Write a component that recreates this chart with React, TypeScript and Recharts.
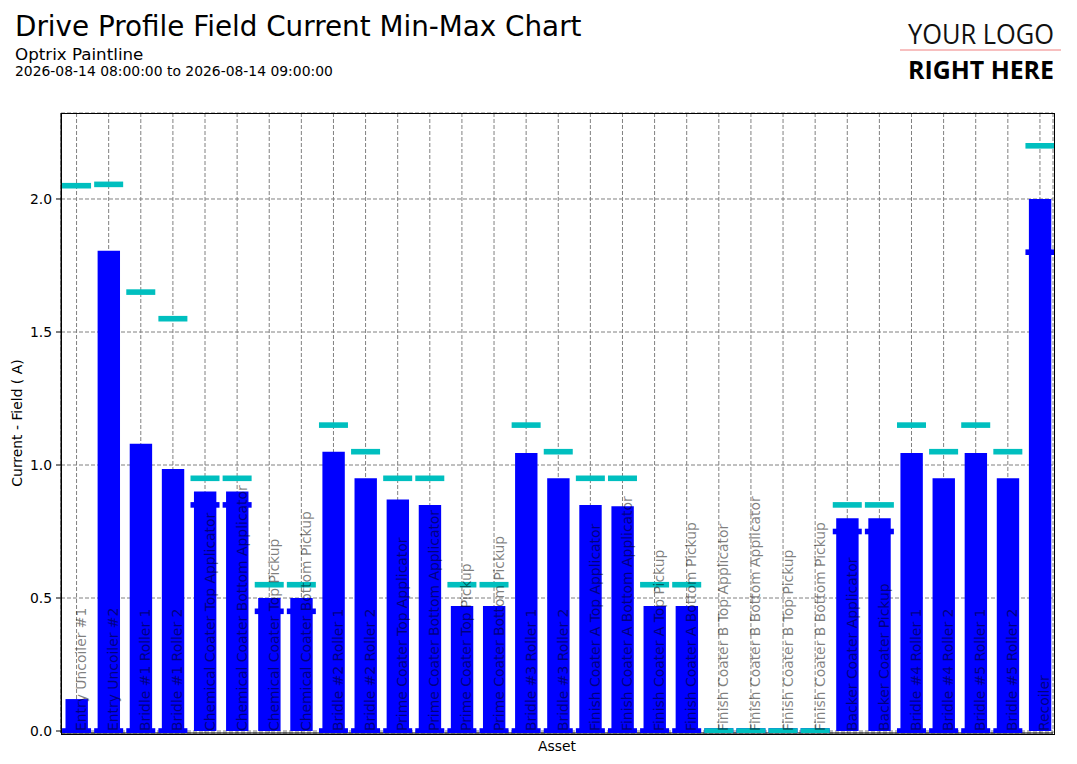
import {
  ComposedChart,
  Bar,
  Scatter,
  XAxis,
  YAxis,
  CartesianGrid,
} from "recharts";

const ASSETS = [
  "Entry Uncoiler #1",
  "Entry Uncoiler #2",
  "Bridle #1 Roller 1",
  "Bridle #1 Roller 2",
  "Chemical Coater Top Applicator",
  "Chemical Coater Bottom Applicator",
  "Chemical Coater Top Pickup",
  "Chemical Coater Bottom Pickup",
  "Bridle #2 Roller 1",
  "Bridle #2 Roller 2",
  "Prime Coater Top Applicator",
  "Prime Coater Bottom Applicator",
  "Prime Coater Top Pickup",
  "Prime Coater Bottom Pickup",
  "Bridle #3 Roller 1",
  "Bridle #3 Roller 2",
  "Finish Coater A Top Applicator",
  "Finish Coater A Bottom Applicator",
  "Finish Coater A Top Pickup",
  "Finish Coater A Bottom Pickup",
  "Finish Coater B Top Applicator",
  "Finish Coater B Bottom Applicator",
  "Finish Coater B Top Pickup",
  "Finish Coater B Bottom Pickup",
  "Backer Coater Applicator",
  "Backer Coater Pickup",
  "Bridle #4 Roller 1",
  "Bridle #4 Roller 2",
  "Bridle #5 Roller 1",
  "Bridle #5 Roller 2",
  "Recoiler",
];

const FIELD_CURRENT = [
  0.12, 1.805, 1.08, 0.985, 0.9, 0.9, 0.5, 0.5, 1.05, 0.95, 0.87, 0.85, 0.47,
  0.47, 1.045, 0.95, 0.85, 0.845, 0.47, 0.47, 0, 0, 0, 0, 0.8, 0.8, 1.045,
  0.95, 1.045, 0.95, 2.0,
];

const MIN_CURRENT = [
  0, 0, 0, 0, 0.85, 0.85, 0.45, 0.45, 0, 0, 0, 0, 0, 0, 0, 0, 0, 0, 0, 0, 0,
  0, 0, 0, 0.75, 0.75, 0, 0, 0, 0, 1.8,
];

const MAX_CURRENT = [
  2.05, 2.055, 1.65, 1.55, 0.95, 0.95, 0.55, 0.55, 1.15, 1.05, 0.95, 0.95,
  0.55, 0.55, 1.15, 1.05, 0.95, 0.95, 0.55, 0.55, 0, 0, 0, 0, 0.85, 0.85, 1.15,
  1.05, 1.15, 1.05, 2.2,
];

const Y_TICKS = [0, 0.5, 1, 1.5, 2];

const FONT = "DejaVu Sans";

// plot box
const PLOT = { left: 61, top: 113, right: 1053, bottom: 733 };

const chartData = ASSETS.map((asset, i) => ({
  asset,
  value: FIELD_CURRENT[i],
  min: MIN_CURRENT[i],
  max: MAX_CURRENT[i],
}));

// flat horizontal marker, wider than the bar
function Marker(props: any) {
  const { cx, cy, fill } = props;
  if (cx == null || cy == null) return null;
  return <rect x={cx - 14.5} y={cy - 2.8} width={29} height={5.6} fill={fill} />;
}

// asset names are written inside the plot, bottom to top
function AssetTick(props: any) {
  const { x, y, payload } = props;
  const tx = x + 9.5;
  const ty = y - 2;
  return (
    <text
      x={tx}
      y={ty}
      transform={`rotate(-90 ${tx} ${ty})`}
      textAnchor="start"
      fontFamily={FONT}
      fontSize={13.9}
      fill="#000"
      fillOpacity={0.5}
    >
      {payload.value}
    </text>
  );
}

export default function App() {
  return (
    <div
      style={{
        position: "absolute",
        left: 0,
        top: 0,
        width: 1077,
        height: 764,
        background: "#fff",
        fontFamily: FONT,
      }}
    >
      <ComposedChart
        width={1077}
        height={764}
        data={chartData}
        margin={{ top: PLOT.top, right: 1077 - PLOT.right, bottom: 0, left: 0 }}
        style={{ position: "absolute", left: 0, top: 0 }}
      >
        <CartesianGrid stroke="#808080" strokeDasharray="4 2" />
        <YAxis
          width={PLOT.left}
          type="number"
          domain={[-0.0075, 2.3233]}
          allowDataOverflow
          ticks={Y_TICKS}
          tickFormatter={(v: number) => v.toFixed(1)}
          tickSize={5}
          tickMargin={4}
          axisLine={{ stroke: "#000" }}
          tickLine={{ stroke: "#000" }}
          tick={{ fill: "#000", fontSize: 13.9, fontFamily: FONT }}
        />
        <Bar
          dataKey="value"
          fill="#0000ff"
          barSize={22.4}
          isAnimationActive={false}
        />
        <Scatter
          dataKey="min"
          fill="#0000ff"
          shape={<Marker />}
          isAnimationActive={false}
        />
        <Scatter
          dataKey="max"
          fill="#00bfbf"
          shape={<Marker />}
          isAnimationActive={false}
        />
        <XAxis
          dataKey="asset"
          height={764 - PLOT.bottom}
          interval={0}
          padding={{ left: -0.5, right: -3 }}
          tickSize={0}
          tickMargin={0}
          tickLine={false}
          axisLine={{ stroke: "#000" }}
          tick={<AssetTick />}
        />
      </ComposedChart>

      <div
        style={{
          position: "absolute",
          left: PLOT.left - 0.5,
          top: PLOT.top - 0.5,
          width: PLOT.right - PLOT.left,
          height: PLOT.bottom - PLOT.top,
          border: "1px solid #000",
          pointerEvents: "none",
        }}
      />

      <svg
        width={1077}
        height={764}
        style={{ position: "absolute", left: 0, top: 0, pointerEvents: "none" }}
      >
        <text x={15} y={36} fontFamily={FONT} fontSize={27.8} fill="#000">
          Drive Profile Field Current Min-Max Chart
        </text>
        <text x={15} y={60} fontFamily={FONT} fontSize={16.7} fill="#000">
          Optrix Paintline
        </text>
        <text x={15} y={76} fontFamily={FONT} fontSize={13.9} fill="#000">
          2026-08-14 08:00:00 to 2026-08-14 09:00:00
        </text>

        <text
          x={908}
          y={44}
          fontFamily="Open Sans"
          fontSize={27}
          fill="#111"
          textLength={146}
          lengthAdjust="spacingAndGlyphs"
        >
          YOUR LOGO
        </text>
        <line x1={900} x2={1061} y1={50} y2={50} stroke="#f08080" strokeWidth={1} />
        <text
          x={908}
          y={79}
          fontFamily="Open Sans"
          fontWeight={700}
          fontSize={25}
          fill="#000"
          textLength={146}
          lengthAdjust="spacingAndGlyphs"
        >
          RIGHT HERE
        </text>

        <text
          x={22}
          y={423}
          transform="rotate(-90 22 423)"
          textAnchor="middle"
          fontFamily={FONT}
          fontSize={13.9}
          fill="#000"
        >
          Current - Field ( A)
        </text>
        <text
          x={557}
          y={751}
          textAnchor="middle"
          fontFamily={FONT}
          fontSize={13.9}
          fill="#000"
        >
          Asset
        </text>
      </svg>
    </div>
  );
}
